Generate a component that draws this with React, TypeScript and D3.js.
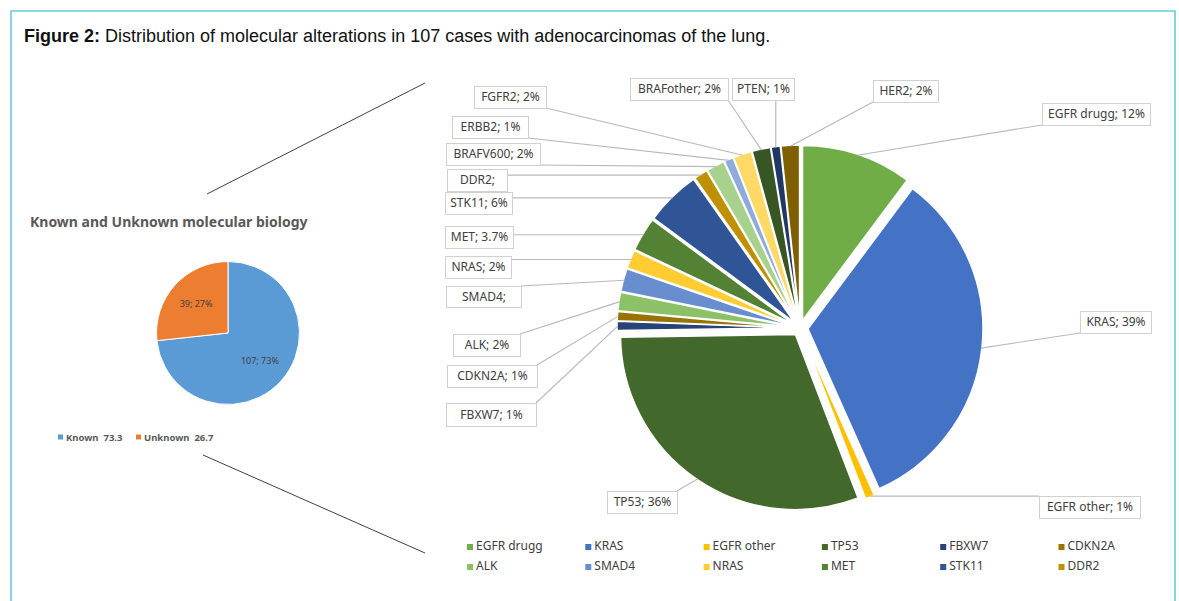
import React from "react";
import * as d3 from "d3";

// Molecular alterations (percent of 107 cases), in pie order clockwise from 12 o'clock
const CATEGORIES = [
  "EGFR drugg", "KRAS", "EGFR other", "TP53", "FBXW7", "CDKN2A",
  "ALK", "SMAD4", "NRAS", "MET", "STK11", "DDR2",
  "BRAFV600", "ERBB2", "FGFR2", "BRAFother", "PTEN", "HER2",
];
const VALUES = [12, 39, 1, 36, 1, 1, 2, 2.5, 2, 3.7, 6, 1.5, 2, 1, 2, 2, 1, 2];
// SMAD4 and DDR2 labels carry only the category name
const VALUE_SHOWN = [
  true, true, true, true, true, true,
  true, false, true, true, true, false,
  true, true, true, true, true, true,
];
const COLORS = [
  "#70AD47", "#4472C4", "#FFC000", "#43682B", "#264478", "#997300",
  "#8CC168", "#698ED0", "#FFCD33", "#548235", "#2F5597", "#BF9000",
  "#A9D18E", "#8FAADC", "#FFD966", "#375623", "#203864", "#7F6000",
];
const LEGEND_CATEGORIES = CATEGORIES.slice(0, 12);

// Known vs unknown molecular biology
const BIO_CATEGORIES = ["Known", "Unknown"];
const BIO_COUNTS = [107, 39];
const BIO_COLORS = ["#5B9BD5", "#ED7D31"];

// Data label boxes placed around the large pie: [x, y, width, height]
const LABEL_BOXES: Record<string, [number, number, number, number]> = {
  "EGFR drugg": [1042, 103, 108, 22],
  KRAS: [1080, 311, 71, 22],
  "EGFR other": [1039, 496, 101, 22],
  TP53: [607, 491, 70, 22],
  FBXW7: [446, 403, 90, 23],
  CDKN2A: [447, 365, 90, 22],
  ALK: [453, 334, 67, 22],
  SMAD4: [446, 286, 75, 21],
  NRAS: [445, 256, 66, 22],
  MET: [445, 226, 68, 22],
  STK11: [445, 192, 67, 22],
  DDR2: [447, 169, 60, 22],
  BRAFV600: [446, 143, 94, 22],
  ERBB2: [452, 116, 76, 22],
  FGFR2: [474, 86, 72, 22],
  BRAFother: [630, 78, 98, 22],
  PTEN: [732, 78, 62, 22],
  HER2: [873, 80, 65, 22],
};

const FONT = "'Noto Sans', 'Open Sans', sans-serif";
const TEXT = "#404040";

export default function App() {
  // Large pie
  const cx = 800;
  const cy = 328;
  const R = 175;
  const EXPLODE = 8;
  const pieGen = d3.pie<number>().sort(null).value((d) => d);
  const arcs = pieGen(VALUES);
  const arcGen = d3.arc<d3.PieArcDatum<number>>().innerRadius(0).outerRadius(R);

  // Small pie
  const scx = 228;
  const scy = 333;
  const sr = 71.5;
  const bioTotal = d3.sum(BIO_COUNTS);
  const bioArcs = pieGen(BIO_COUNTS);
  const bioArc = d3.arc<d3.PieArcDatum<number>>().innerRadius(0).outerRadius(sr);
  const bioLabelArc = d3.arc<d3.PieArcDatum<number>>().innerRadius(sr * 0.6).outerRadius(sr * 0.6);

  const clamp = (v: number, lo: number, hi: number) => Math.max(lo, Math.min(hi, v));

  return (
    <svg
      width={1179}
      height={601}
      style={{ position: "absolute", left: 0, top: 0, background: "#fff" }}
    >
      <rect x={0} y={0} width={1179} height={601} fill="#fff" />
      {/* figure frame */}
      <path d="M11,612 V11 H1175 V612" fill="none" stroke="#6ACBD6" strokeWidth={1.6} />

      <text x={24} y={42} fontFamily="'Liberation Sans', Arial, sans-serif" fontSize={18} fill="#111">
        <tspan fontWeight="bold">Figure 2:</tspan> Distribution of molecular alterations in 107 cases with adenocarcinomas of the lung.
      </text>

      {/* connectors from the small pie to the breakdown */}
      <line x1={207} y1={194} x2={425} y2={83} stroke="#404040" strokeWidth={1} />
      <line x1={203} y1={455} x2={425} y2={553} stroke="#404040" strokeWidth={1} />

      {/* small pie */}
      <text x={30} y={227} fontFamily={FONT} fontSize={14} fontWeight="bold" fill="#595959">
        Known and Unknown molecular biology
      </text>
      <g transform={`translate(${scx},${scy})`}>
        {bioArcs.map((a, i) => (
          <path key={i} d={bioArc(a) || ""} fill={BIO_COLORS[i]} stroke="#fff" strokeWidth={1} />
        ))}
        {bioArcs.map((a, i) => {
          const [lx, ly] = bioLabelArc.centroid(a);
          return (
            <text key={i} x={lx} y={ly} textAnchor="middle" dominantBaseline="middle"
              fontFamily={FONT} fontSize={9} fill={TEXT}>
              {`${BIO_COUNTS[i]}; ${Math.round((BIO_COUNTS[i] / bioTotal) * 100)}%`}
            </text>
          );
        })}
      </g>
      {BIO_CATEGORIES.map((c, i) => {
        const x = i === 0 ? 58 : 136;
        return (
          <g key={c}>
            <rect x={x} y={434.5} width={5} height={5} fill={BIO_COLORS[i]} />
            <text x={x + 8} y={441} fontFamily={FONT} fontSize={9.5} fontWeight="bold" fill="#595959"
              xmlSpace="preserve" style={{ whiteSpace: "pre" }}>
              {`${c}  ${d3.format(".1f")((BIO_COUNTS[i] / bioTotal) * 100)}`}
            </text>
          </g>
        );
      })}

      {/* large pie slices, each pulled out along its bisector */}
      {arcs.map((a, i) => {
        const mid = (a.startAngle + a.endAngle) / 2;
        const dx = EXPLODE * Math.sin(mid);
        const dy = -EXPLODE * Math.cos(mid);
        return (
          <path key={CATEGORIES[i]} d={arcGen(a) || ""} transform={`translate(${cx + dx},${cy + dy})`}
            fill={COLORS[i]} stroke="#fff" strokeWidth={1.5} strokeLinejoin="round" />
        );
      })}

      {/* leader lines and data labels */}
      {arcs.map((a, i) => {
        const name = CATEGORIES[i];
        const [bx, by, bw, bh] = LABEL_BOXES[name];
        const mid = (a.startAngle + a.endAngle) / 2;
        const rr = R + EXPLODE - 1;
        const tx = cx + rr * Math.sin(mid);
        const ty = cy - rr * Math.cos(mid);
        const ax = clamp(tx, bx, bx + bw);
        const ay = clamp(ty, by, by + bh);
        const label = VALUE_SHOWN[i] ? `${name}; ${VALUES[i]}%` : `${name};`;
        return (
          <g key={name}>
            <line x1={ax} y1={ay} x2={tx} y2={ty} stroke="#B8B8B8" strokeWidth={1.1} />
            <rect x={bx + 0.5} y={by + 0.5} width={bw} height={bh} fill="#fff" stroke="#D0D0D0" strokeWidth={1} />
            <text x={bx + bw / 2 + 0.5} y={by + bh / 2 + 1} textAnchor="middle" dominantBaseline="middle"
              fontFamily={FONT} fontSize={12} fill={TEXT}>
              {label}
            </text>
          </g>
        );
      })}

      {/* legend: first twelve categories in two rows */}
      {LEGEND_CATEGORIES.map((c, i) => {
        const col = i % 6;
        const row = Math.floor(i / 6);
        const x = 467 + col * 118.3;
        const y = 547 + row * 20;
        return (
          <g key={c}>
            <rect x={x} y={y - 3} width={6} height={6} fill={COLORS[i]} />
            <text x={x + 9} y={y} dominantBaseline="middle" fontFamily={FONT} fontSize={12} fill={TEXT}>
              {c}
            </text>
          </g>
        );
      })}
    </svg>
  );
}
